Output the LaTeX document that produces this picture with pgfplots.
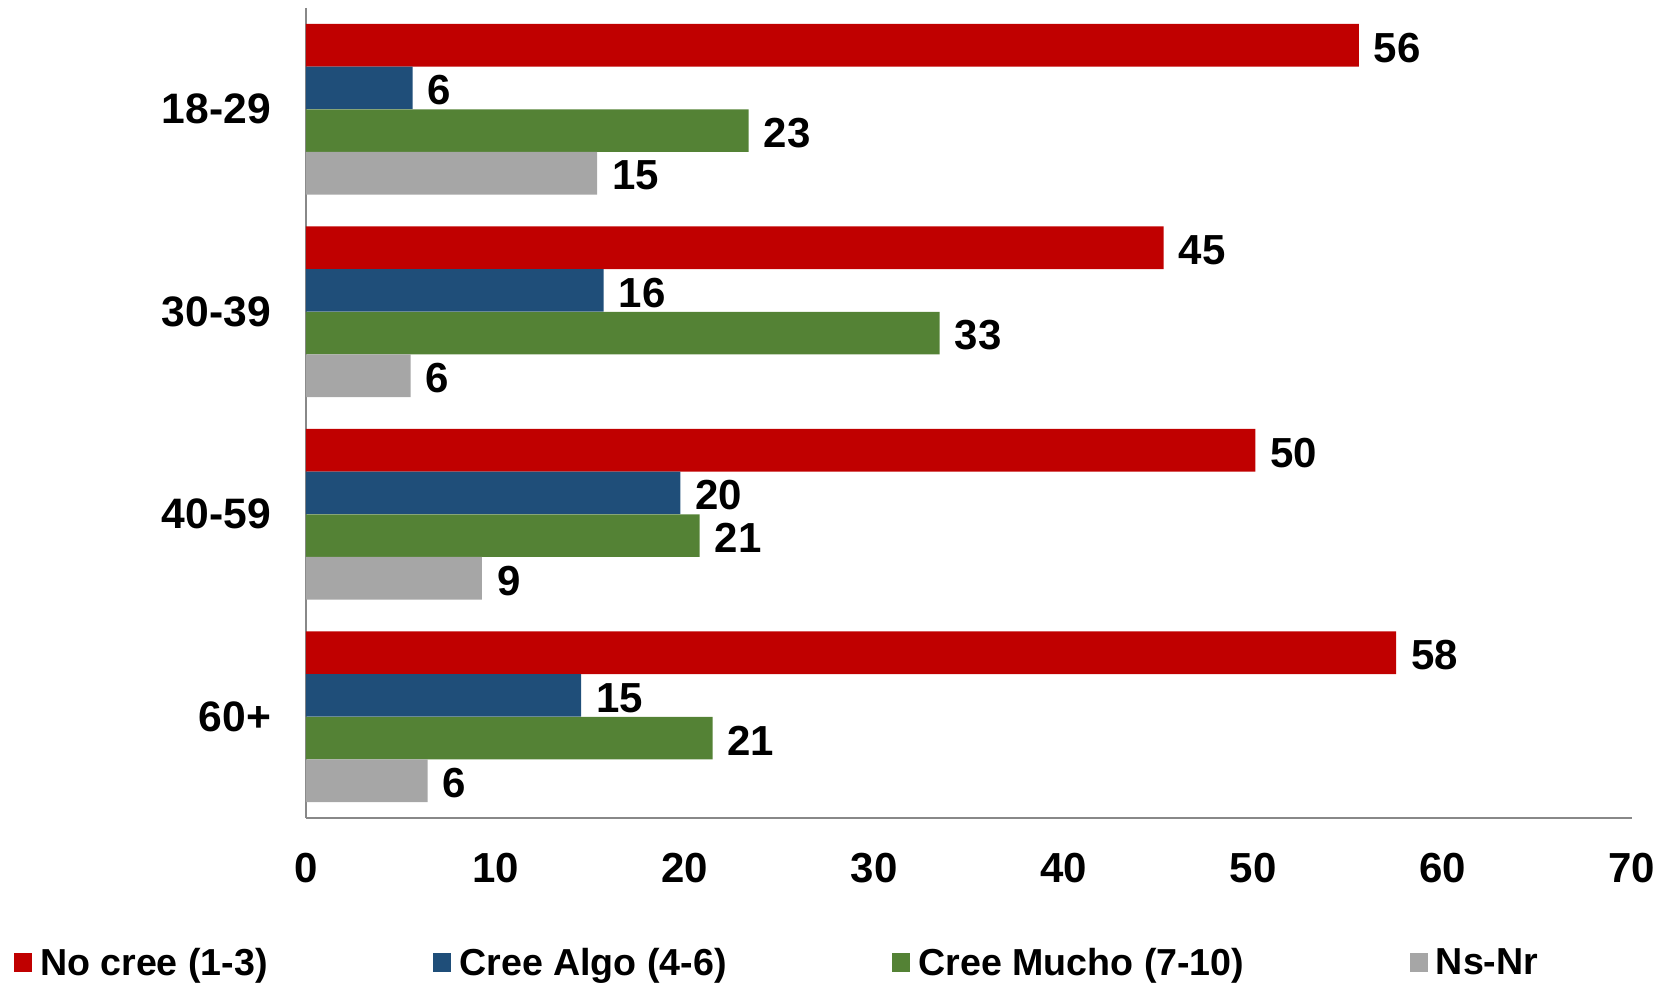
\documentclass[border=0pt]{standalone}
\usepackage{pgfplots}
\pgfplotsset{compat=1.18}
\usepackage{fontspec}
\setmainfont{Liberation Sans}

\definecolor{cRed}{HTML}{C00000}
\definecolor{cBlue}{HTML}{1F4E79}
\definecolor{cGreen}{HTML}{548235}
\definecolor{cGray}{HTML}{A6A6A6}
\definecolor{axgray}{HTML}{888888}

\newcommand{\lbl}{\fontsize{21}{25}\selectfont\bfseries}

\begin{document}
\begin{tikzpicture}
\useasboundingbox (-153pt,-82.5pt) rectangle (682pt,409pt);
\begin{axis}[
    scale only axis,
    width=663pt,
    height=405pt,
    xbar,
    bar width=0.2105,
    xmin=0, xmax=70,
    ymin=-0.5, ymax=3.5,
    y dir=reverse,
    ytick={0,1,2,3},
    yticklabels={18-29,30-39,40-59,60+},
    xtick={0,10,...,70},
    axis x line*=bottom,
    axis y line*=left,
    axis line style={draw=axgray, line width=0.8pt},
    major tick length=0pt,
    /pgf/number format/assume math mode=true,
    ticklabel style={font=\lbl},
    xticklabel style={yshift=-14pt},
    yticklabel style={xshift=-14pt, font=\fontsize{21.3}{25}\selectfont\bfseries},
    clip=false,
    point meta=explicit symbolic,
    nodes near coords={\pgfplotspointmeta},
    nodes near coords style={font=\lbl, anchor=west, xshift=4pt, yshift=-1.2pt},
    legend columns=4,
    legend image code/.code={\fill[#1] (0pt,-4.75pt) rectangle (9pt,4.75pt);},
    legend style={draw=none, fill=none, inner sep=0pt, outer sep=0pt,
        at={(-0.2202,-0.179)}, anchor=west,
        font=\fontsize{18.8}{23}\selectfont\bfseries,
        nodes={inner sep=0pt, anchor=west},
        /tikz/every odd column/.append style={column sep=4pt},
        /tikz/every even column/.append style={column sep=82.8pt}},
]
\addplot[fill=cRed, draw=none, bar shift=-0.3158] coordinates {
(55.58,0) [56]
(45.28,1) [45]
(50.12,2) [50]
(57.55,3) [58]
};
\addlegendentry{No cree (1-3)}
\addplot[fill=cBlue, draw=none, bar shift=-0.1053] coordinates {
(5.63,0) [6]
(15.71,1) [16]
(19.77,2) [20]
(14.53,3) [15]
};
\addlegendentry{Cree Algo (4-6)}
\addplot[fill=cGreen, draw=none, bar shift=0.1053] coordinates {
(23.37,0) [23]
(33.45,1) [33]
(20.78,2) [21]
(21.46,3) [21]
};
\addlegendentry{Cree Mucho (7-10)}
\addplot[fill=cGray, draw=none, bar shift=0.3158] coordinates {
(15.37,0) [15]
(5.52,1) [6]
(9.29,2) [9]
(6.42,3) [6]
};
\addlegendentry{Ns-Nr}
\end{axis}
\end{tikzpicture}
\end{document}
